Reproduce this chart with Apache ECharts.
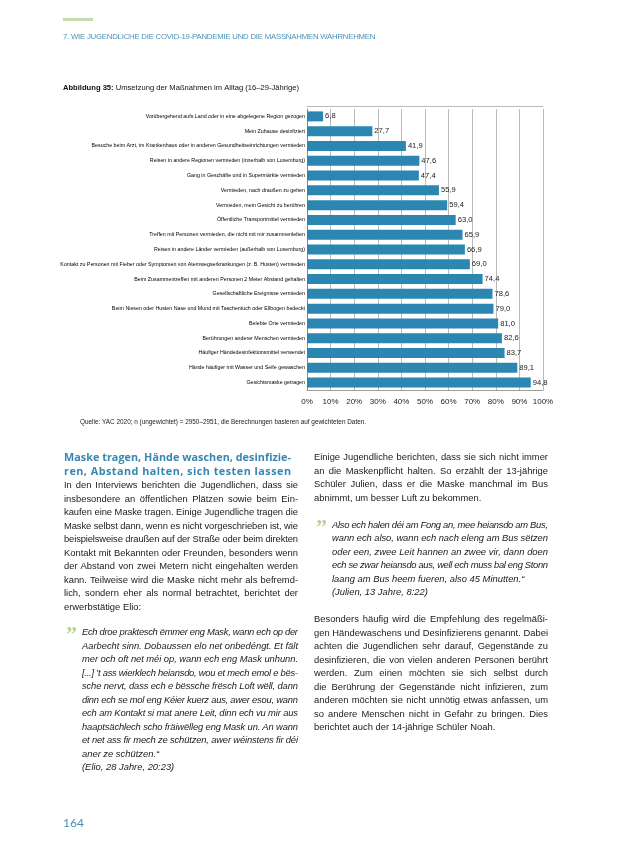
<!DOCTYPE html>
<html>
<head>
<meta charset="utf-8">
<script src="https://cdn.jsdelivr.net/npm/echarts@6/dist/echarts.min.js"></script>
<style>
html,body{margin:0;padding:0;background:#fff;}
#page{position:relative;width:638px;height:862px;overflow:hidden;}
#chart{position:absolute;left:0;top:0;width:638px;height:862px;}
.blk{position:absolute;color:#1a1a1a;font-family:"Liberation Sans",Arial,sans-serif;font-size:9.4px;}
.blk div{white-space:nowrap;height:13.5px;line-height:13.5px;}
.it{font-style:italic;}
.hd{font-family:"Open Sans",sans-serif;font-weight:700;color:#3787b0;font-size:10.8px;}
.hd div{height:14px;line-height:14px;}
.qm{position:absolute;color:#b7d38f;font-family:"Liberation Serif",serif;font-weight:700;font-size:22px;line-height:22px;}
</style>
</head>
<body>
<div id="page">
<div id="chart"></div>

<div style="position:absolute;left:63px;top:18px;width:30px;height:3px;background:#c7dcae;"></div>
<div class="blk" id="hdr" style="left:63px;top:32px;font-family:'Liberation Sans Narrow',sans-serif;font-size:7.8px;color:#4a93b4;"><div data-w="312" data-mode="letter" style="height:10px;line-height:10px;">7. WIE JUGENDLICHE DIE  COVID-19-PANDEMIE  UND DIE MASSNAHMEN WAHRNEHMEN</div></div>

<div class="blk hd" style="left:64px;top:450px;">
<div data-w="227" data-mode="letter">Maske tragen, Hände waschen, desinfizie-</div>
<div data-w="227" data-mode="letter">ren, Abstand halten, sich testen lassen</div>
</div>
<div class="blk" style="left:64px;top:478.25px;">
<div data-w="234">In den Interviews berichten die Jugendlichen, dass sie</div>
<div data-w="234">insbesondere an öffentlichen Plätzen sowie beim Ein-</div>
<div data-w="234">kaufen eine Maske tragen. Einige Jugendliche tragen die</div>
<div data-w="234">Maske selbst dann, wenn es nicht vorgeschrieben ist, wie</div>
<div data-w="234">beispielsweise draußen auf der Straße oder beim direkten</div>
<div data-w="234">Kontakt mit Bekannten oder Freunden, besonders wenn</div>
<div data-w="234">der Abstand von zwei Metern nicht eingehalten werden</div>
<div data-w="234">kann. Teilweise wird die Maske nicht mehr als befremd-</div>
<div data-w="234">lich, sondern eher als normal betrachtet, berichtet der</div>
<div>erwerbstätige Elio:</div>
</div>
<div class="qm" style="left:66px;top:623px;">”</div>
<div class="blk it" style="left:82px;top:625.25px;">
<div data-w="216">Ech droe praktesch ëmmer eng Mask, wann ech op der</div>
<div data-w="216">Aarbecht sinn. Dobaussen elo net onbedéngt. Et fält</div>
<div data-w="216">mer och oft net méi op, wann ech eng Mask unhunn.</div>
<div data-w="216">[...] ’t ass wierklech heiansdo, wou et mech emol e bës-</div>
<div data-w="216">sche nervt, dass ech e bëssche frësch Loft wëll, dann</div>
<div data-w="216">dinn ech se mol eng Kéier kuerz aus, awer esou, wann</div>
<div data-w="216">ech am Kontakt si mat anere Leit, dinn ech vu mir aus</div>
<div data-w="216">haaptsächlech scho fräiwëlleg eng Mask un. An wann</div>
<div data-w="216">et net ass fir mech ze schützen, awer wéinstens fir déi</div>
<div>aner ze schützen.“</div>
<div>(Elio, 28 Jahre, 20:23)</div>
</div>

<div class="blk" style="left:314px;top:450.25px;">
<div data-w="234">Einige Jugendliche berichten, dass sie sich nicht immer</div>
<div data-w="234">an die Maskenpflicht halten. So erzählt der 13-jährige</div>
<div data-w="234">Schüler Julien, dass er die Maske manchmal im Bus</div>
<div>abnimmt, um besser Luft zu bekommen.</div>
</div>
<div class="qm" style="left:316px;top:516px;">”</div>
<div class="blk it" style="left:332px;top:517.75px;">
<div data-w="216">Also ech halen déi am Fong an, mee heiansdo am Bus,</div>
<div data-w="216">wann ech also, wann ech nach eleng am Bus sëtzen</div>
<div data-w="216">oder een, zwee Leit hannen an zwee vir, dann doen</div>
<div data-w="216">ech se zwar heiansdo aus, well ech muss bal eng Stonn</div>
<div>laang am Bus heem fueren, also 45 Minutten.“</div>
<div>(Julien, 13 Jahre, 8:22)</div>
</div>
<div class="blk" style="left:314px;top:612.25px;">
<div data-w="234">Besonders häufig wird die Empfehlung des regelmäßi-</div>
<div data-w="234">gen Händewaschens und Desinfizierens genannt. Dabei</div>
<div data-w="234">achten die Jugendlichen sehr darauf, Gegenstände zu</div>
<div data-w="234">desinfizieren, die von vielen anderen Personen berührt</div>
<div data-w="234">werden. Zum einen möchten sie sich selbst durch</div>
<div data-w="234">die Berührung der Gegenstände nicht infizieren, zum</div>
<div data-w="234">anderen möchten sie nicht unnötig etwas anfassen, um</div>
<div data-w="234">so andere Menschen nicht in Gefahr zu bringen. Dies</div>
<div>berichtet auch der 14-jährige Schüler Noah.</div>
</div>

<div class="blk" style="left:63px;top:815px;font-family:Lato,sans-serif;font-size:12px;color:#4a8fb3;"><div style="height:16px;line-height:16px;">164</div></div>
</div>

<script>
var categories = [
  "Vorübergehend aufs Land oder in eine abgelegene Region gezogen",
  "Mein Zuhause desinfiziert",
  "Besuche beim Arzt, im Krankenhaus oder in anderen Gesundheitseinrichtungen vermieden",
  "Reisen in andere Regionen vermieden (innerhalb von Luxemburg)",
  "Gang in Geschäfte und in Supermärkte vermieden",
  "Vermieden, nach draußen zu gehen",
  "Vermieden, mein Gesicht zu berühren",
  "Öffentliche Transportmittel vermieden",
  "Treffen mit Personen vermieden, die nicht mit mir zusammenleben",
  "Reisen in andere Länder vermieden (außerhalb von Luxemburg)",
  "Kontakt zu Personen mit Fieber oder Symptomen von Atemwegserkrankungen (z. B. Husten) vermieden",
  "Beim Zusammentreffen mit anderen Personen 2 Meter Abstand gehalten",
  "Gesellschaftliche Ereignisse vermieden",
  "Beim Niesen oder Husten Nase und Mund mit Taschentuch oder Ellbogen bedeckt",
  "Belebte Orte vermieden",
  "Berührungen anderer Menschen vermieden",
  "Häufiger Händedesinfektionsmittel verwendet",
  "Hände häufiger mit Wasser und Seife gewaschen",
  "Gesichtsmaske getragen"
];
var values = [6.8, 27.7, 41.9, 47.6, 47.4, 55.9, 59.4, 63.0, 65.9, 66.9, 69.0, 74.4, 78.6, 79.0, 81.0, 82.6, 83.7, 89.1, 94.8];
var tickMin = 0, tickMax = 100, tickStep = 10;
var titleBold = "Abbildung 35:";
var titleRest = " Umsetzung der Maßnahmen im Alltag (16–29-Jährige)";
var sourceText = "Quelle: YAC 2020; n (ungewichtet) = 2950–2951, die Berechnungen basieren auf gewichteten Daten.";

var NARROW = "'Liberation Sans Narrow', 'Arial Narrow', sans-serif";
var chart = echarts.init(document.getElementById('chart'), null, {renderer: 'canvas'});
chart.setOption({
  backgroundColor: 'transparent',
  animation: false,
  title: {
    left: 63, top: 84, padding: 0,
    text: '{b|' + titleBold + '}{r|' + titleRest + '}',
    textStyle: {
      fontWeight: 'normal',
      rich: {
        b: {fontFamily: NARROW, fontSize: 7.6, fontWeight: 'bold', color: '#111'},
        r: {fontFamily: NARROW, fontSize: 7.6, fontWeight: 'normal', color: '#111'}
      }
    }
  },
  graphic: [{
    type: 'text', left: 80, top: 419,
    style: {text: sourceText, fontFamily: NARROW, fontSize: 6.4, fill: '#1a1a1a'}
  }],
  grid: {left: 307, width: 236, top: 109, height: 281},
  xAxis: [{
    type: 'value', min: tickMin, max: tickMax, interval: tickStep,
    axisLine: {show: true, lineStyle: {color: '#9a9a9a', width: 1}},
    axisTick: {show: false},
    splitLine: {show: true, lineStyle: {color: '#a8a8a8', width: 0.8}},
    axisLabel: {formatter: '{value}%', fontFamily: NARROW, fontSize: 8, color: '#222', margin: 8}
  }, {
    type: 'value', min: tickMin, max: tickMax, position: 'top', offset: 3,
    axisLine: {show: true, lineStyle: {color: '#a8a8a8', width: 0.8}},
    axisTick: {show: false}, axisLabel: {show: false}, splitLine: {show: false}
  }],
  yAxis: {
    type: 'category', inverse: true, data: categories,
    axisLine: {show: true, lineStyle: {color: '#8a8a8a', width: 1}},
    axisTick: {show: false},
    axisLabel: {fontFamily: NARROW, fontSize: 5.3, color: '#000', margin: 2, interval: 0}
  },
  series: [{
    type: 'bar', data: values, barWidth: 10, xAxisIndex: 0,
    itemStyle: {color: '#2b87b1'},
    label: {
      show: true, position: 'right', distance: 2,
      fontFamily: NARROW, fontSize: 7.6, color: '#1a1a1a',
      formatter: function (p) { return p.value.toFixed(1).replace('.', ','); }
    }
  }]
});

// justify individual text lines to their column width
document.querySelectorAll('[data-w]').forEach(function (el) {
  var target = parseFloat(el.getAttribute('data-w'));
  el.style.display = 'inline-block';
  var w = el.getBoundingClientRect().width;
  var diff = target - w;
  var txt = el.textContent;
  var spaces = (txt.match(/ /g) || []).length;
  if (el.getAttribute('data-mode') === 'letter') {
    el.style.letterSpacing = (diff / (txt.length - 1)) + 'px';
  } else if (diff >= 0 && spaces > 0) {
    el.style.wordSpacing = (diff / spaces) + 'px';
  } else {
    el.style.letterSpacing = (diff / (txt.length - 1)) + 'px';
  }
  el.style.display = 'block';
});
</script>
</body>
</html>
